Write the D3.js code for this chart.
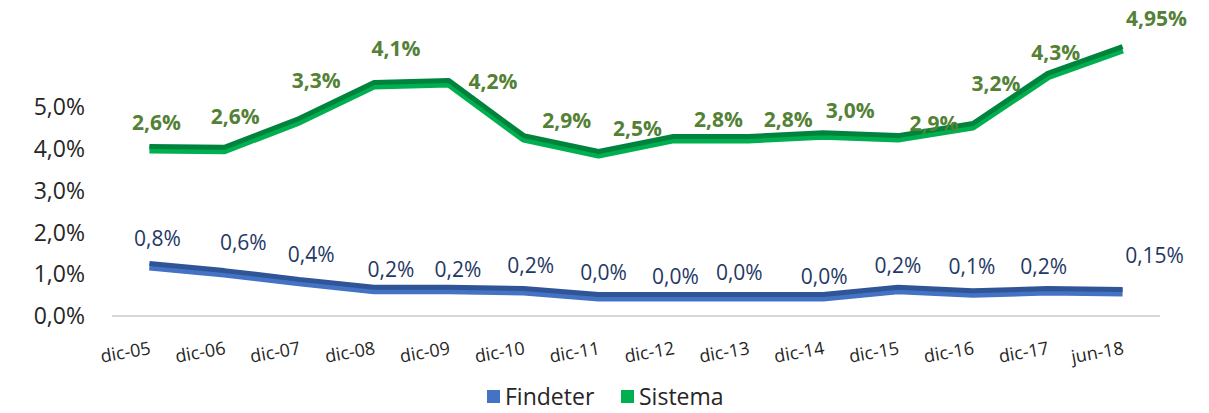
<!DOCTYPE html>
<html lang="es">
<head>
<meta charset="UTF-8">
<title>Findeter vs Sistema</title>
<style>
  body { margin: 0; background: #fff; }
  svg { display: block; font-family: "Open Sans", "Noto Sans", sans-serif; }
  .tick-y { font-size: 23px; fill: #262626; }
  .tick-x { font-size: 18px; fill: #262626; }
  .lbl-green { font-size: 21px; font-weight: bold; fill: #538135; }
  .lbl-blue { font-size: 21px; fill: #1f3864; }
  .legend { font-size: 23px; fill: #262626; }
</style>
</head>
<body>
<svg id="chart" width="1209" height="413"></svg>
<script src="https://d3js.org/d3.v7.min.js"></script>
<script>
// categories
const periods = ["dic-05","dic-06","dic-07","dic-08","dic-09","dic-10","dic-11","dic-12","dic-13","dic-14","dic-15","dic-16","dic-17","jun-18"];
// plotted values (as read against the axis)
const sistema = [4.02, 4.0, 4.69, 5.55, 5.6, 4.28, 3.9, 4.26, 4.26, 4.35, 4.28, 4.57, 5.77, 6.41];
const findeter = [1.22, 1.05, 0.84, 0.65, 0.65, 0.62, 0.48, 0.48, 0.48, 0.48, 0.65, 0.57, 0.62, 0.6];
// data label texts
const sistemaLabels = ["2,6%","2,6%","3,3%","4,1%","4,2%","2,9%","2,5%","2,8%","2,8%","3,0%","2,9%","3,2%","4,3%","4,95%"];
const findeterLabels = ["0,8%","0,6%","0,4%","0,2%","0,2%","0,2%","0,0%","0,0%","0,0%","0,0%","0,2%","0,1%","0,2%","0,15%"];
const yTicks = [0, 1, 2, 3, 4, 5];

// label placement (manual offsets, as in the source)
const sistemaOffsets = [[7,-26],[11,-32],[17,-40],[22,-36],[44,0],[43,-17],[39,-25],[45,-18],[40,-18],[27,-24],[36,-14],[23,-42],[8,-22],[34,-30]];
const findeterOffsets = [[8,-27],[19,-30],[12,-26],[17,-19],[9,-19],[7,-25],[5,-23],[2,-19],[-9,-23],[1,-19],[0,-23],[-1,-26],[-4,-24],[32,-35]];

const svg = d3.select("#chart");

const x = d3.scaleBand().domain(periods).range([112, 1160]);
const cx = d => x(d) + x.bandwidth() / 2;
const y = d3.scaleLinear().domain([0, 5]).range([316, 107]);

// y labels
svg.append("g").selectAll("text")
  .data(yTicks).enter().append("text")
  .attr("class", "tick-y")
  .attr("x", 85)
  .attr("y", d => y(d))
  .attr("dy", "0.36em")
  .attr("text-anchor", "end")
  .text(d => d3.format(".1f")(d).replace(".", ",") + "%");

// baseline
svg.append("line")
  .attr("x1", 112).attr("x2", 1160)
  .attr("y1", y(0)).attr("y2", y(0))
  .attr("stroke", "#d9d9d9").attr("stroke-width", 2);

// x labels
svg.append("g").selectAll("text")
  .data(periods).enter().append("text")
  .attr("class", "tick-x")
  .attr("text-anchor", "end")
  .attr("transform", d => `translate(${cx(d) + 2},354) rotate(-10)`)
  .text(d => d);

function drawSeries(values, light, dark) {
  const line = d3.line()
    .x((d, i) => cx(periods[i]))
    .y(d => y(d));
  const g = svg.append("g");
  g.append("path").datum(values)
    .attr("d", line)
    .attr("transform", "translate(0,1.5)")
    .attr("fill", "none").attr("stroke", light)
    .attr("stroke-width", 8).attr("stroke-linejoin", "bevel");
  g.append("path").datum(values)
    .attr("d", line)
    .attr("transform", "translate(0,-1.5)")
    .attr("fill", "none").attr("stroke", dark)
    .attr("stroke-width", 5).attr("stroke-linejoin", "bevel");
}

drawSeries(sistema, "#00b050", "#00843d");
drawSeries(findeter, "#4472c4", "#2f5597");

function drawLabels(values, texts, offsets, cls) {
  svg.append("g").selectAll("text")
    .data(values).enter().append("text")
    .attr("class", cls)
    .attr("text-anchor", "middle")
    .attr("x", (d, i) => cx(periods[i]) + offsets[i][0])
    .attr("y", (d, i) => y(d) + offsets[i][1])
    .attr("dy", "0.36em")
    .text((d, i) => texts[i]);
}

drawLabels(sistema, sistemaLabels, sistemaOffsets, "lbl-green");
drawLabels(findeter, findeterLabels, findeterOffsets, "lbl-blue");

// legend
const legend = [
  { name: "Findeter", color: "#4472c4", x: 487 },
  { name: "Sistema", color: "#00b050", x: 621 }
];
const lg = svg.append("g").selectAll("g").data(legend).enter().append("g")
  .attr("transform", d => `translate(${d.x},397)`);
lg.append("rect").attr("x", 0).attr("y", -7).attr("width", 13).attr("height", 13)
  .attr("fill", d => d.color);
lg.append("text").attr("class", "legend").attr("x", 18).attr("dy", "0.36em")
  .text(d => d.name);
</script>
</body>
</html>
